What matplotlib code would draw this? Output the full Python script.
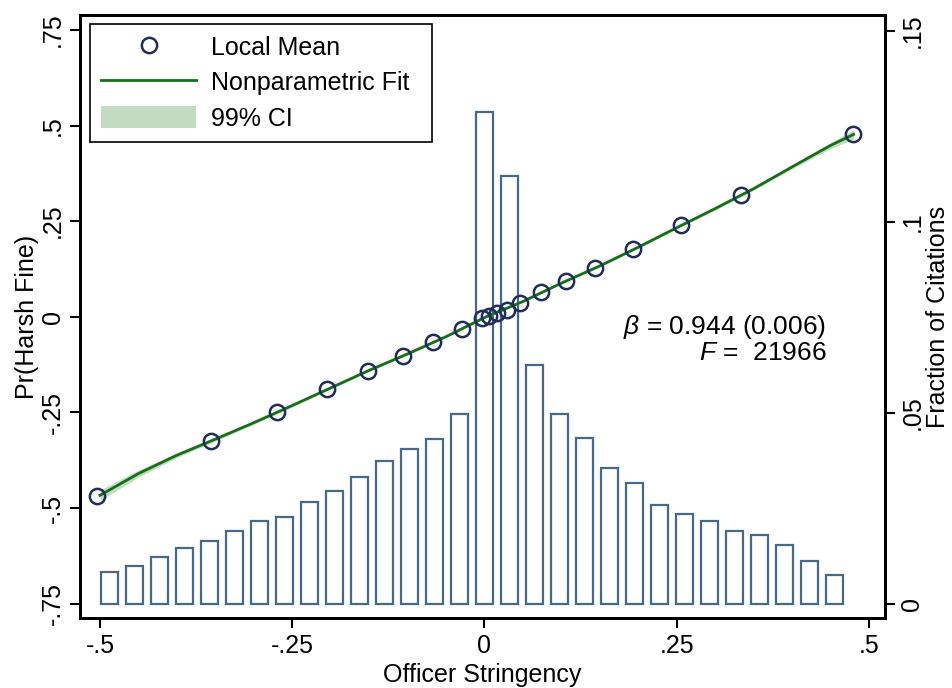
import numpy as np
import matplotlib
matplotlib.use('Agg')
import matplotlib.pyplot as plt

# data
# histogram of officer stringency (right axis)
bin_centers = [-0.4875, -0.455, -0.4225, -0.39, -0.3575, -0.325, -0.2925, -0.26,
               -0.2275, -0.195, -0.1625, -0.13, -0.0975, -0.065, -0.0325, 0.0,
               0.0325, 0.065, 0.0975, 0.13, 0.1625, 0.195, 0.2275, 0.26,
               0.2925, 0.325, 0.3575, 0.39, 0.4225, 0.455]
bin_frac = [0.0083, 0.0098, 0.0121, 0.0146, 0.0164, 0.0189, 0.0217, 0.0226,
            0.0267, 0.0294, 0.0332, 0.0373, 0.0406, 0.0431, 0.0498, 0.1289,
            0.1120, 0.0626, 0.0498, 0.0435, 0.0354, 0.0315, 0.0258, 0.0235,
            0.0216, 0.0191, 0.0180, 0.0154, 0.0112, 0.0074]

# binned local means (left axis)
mean_x = [-0.5037, -0.355, -0.2701, -0.2042, -0.1512, -0.1062, -0.0672, -0.029,
          -0.003, 0.0065, 0.016, 0.0299, 0.0464, 0.0737, 0.1062, 0.1443,
          0.1928, 0.2558, 0.3342, 0.4798]
mean_y = [-0.469, -0.3244, -0.2493, -0.1884, -0.1421, -0.1036, -0.0654, -0.033,
          -0.0042, 0.0018, 0.0089, 0.0175, 0.0351, 0.0638, 0.0942, 0.1282,
          0.1763, 0.2399, 0.3184, 0.4772]

# nonparametric fit and its 99% CI half width
fit_x = [-0.50, -0.45, -0.40, -0.35, -0.30, -0.25, -0.20, -0.15, -0.10, -0.05, 0.0,
         0.05, 0.10, 0.15, 0.20, 0.25, 0.30, 0.35, 0.40, 0.45, 0.48]
fit_y = [-0.467, -0.41, -0.362, -0.32, -0.277, -0.232, -0.186, -0.140, -0.097, -0.052,
         -0.002, 0.040, 0.088, 0.133, 0.182, 0.233, 0.283, 0.335, 0.392, 0.448, 0.477]
ci_half = [0.014, 0.009, 0.006, 0.005, 0.004, 0.004, 0.003, 0.003, 0.003, 0.002, 0.002,
           0.002, 0.002, 0.003, 0.003, 0.003, 0.004, 0.004, 0.005, 0.008, 0.012]

x_ticks = [-0.5, -0.25, 0, 0.25, 0.5]
x_labels = ['-.5', '-.25', '0', '.25', '.5']
left_ticks = [-0.75, -0.5, -0.25, 0, 0.25, 0.5, 0.75]
left_labels = ['-.75', '-.5', '-.25', '0', '.25', '.5', '.75']
right_ticks = [0, 0.05, 0.1, 0.15]
right_labels = ['0', '.05', '.1', '.15']

plt.rcParams['font.family'] = ['Liberation Sans', 'DejaVu Sans']
plt.rcParams['mathtext.fontset'] = 'custom'
plt.rcParams['mathtext.it'] = 'Liberation Sans:italic'
plt.rcParams['mathtext.rm'] = 'Liberation Sans'
fs = 18

fig = plt.figure(figsize=(9.52, 6.88), dpi=100)
ax = fig.add_axes([0.084, 0.1013, 0.8456, 0.8769])
ax2 = ax.twinx()

# histogram on the right axis, drawn behind
ax2.bar(bin_centers, bin_frac, width=0.0228, facecolor='none',
        edgecolor='#46698a', linewidth=1.6)
ax2.set_ylim(-0.00385, 0.1542)
ax2.set_yticks(right_ticks)
ax2.set_yticklabels(right_labels, rotation=90, va='center', fontsize=fs)
ax2.set_ylabel('Fraction of Citations', fontsize=fs, labelpad=1)

# fit, ci and local means on the left axis
ax.set_zorder(ax2.get_zorder() + 1)
ax.patch.set_visible(False)
fit_x = np.array(fit_x)
fit_y = np.array(fit_y)
ci_half = np.array(ci_half)
ax.fill_between(fit_x, fit_y - ci_half, fit_y + ci_half, color='#c2dcc2',
                linewidth=0, label='99% CI')
ax.plot(fit_x, fit_y, color='#157015', linewidth=2, label='Nonparametric Fit')
ax.plot(mean_x, mean_y, 'o', markersize=11, markerfacecolor='none',
        markeredgecolor='#1f2d5c', markeredgewidth=1.8, label='Local Mean')

ax.set_xlim(-0.526, 0.5208)
ax.set_ylim(-0.7885, 0.7892)
ax.set_xticks(x_ticks)
ax.set_xticklabels(x_labels, fontsize=fs)
ax.set_yticks(left_ticks)
ax.set_yticklabels(left_labels, rotation=90, va='center', fontsize=fs)
ax.set_xlabel('Officer Stringency', fontsize=fs, labelpad=4)
ax.set_ylabel('Pr(Harsh Fine)', fontsize=fs, labelpad=1)

for a in (ax, ax2):
    for s in a.spines.values():
        s.set_linewidth(2)
    a.tick_params(width=1.5, length=7, pad=4)

ax.text(0.4447, -0.058, r'$\beta$ = 0.944 (0.006)' + '\n' + r'$F$ =  21966',
        ha='right', va='center', multialignment='right', fontsize=19, linespacing=1.0)

# legend in the order of the reference
h, l = ax.get_legend_handles_labels()
order = [2, 1, 0]
leg = ax.legend([h[i] for i in order], [l[i] for i in order], loc='upper left',
                bbox_to_anchor=(0.0124, 0.0, 0.4248, 0.985), mode='expand',
                borderaxespad=0, fontsize=fs,
                fancybox=False, framealpha=1, edgecolor='black',
                handlelength=3.8, handleheight=1.0, handletextpad=0.6,
                borderpad=0.45, labelspacing=0.42)
leg.get_frame().set_linewidth(1.2)

plt.savefig('out.png', dpi=100)
